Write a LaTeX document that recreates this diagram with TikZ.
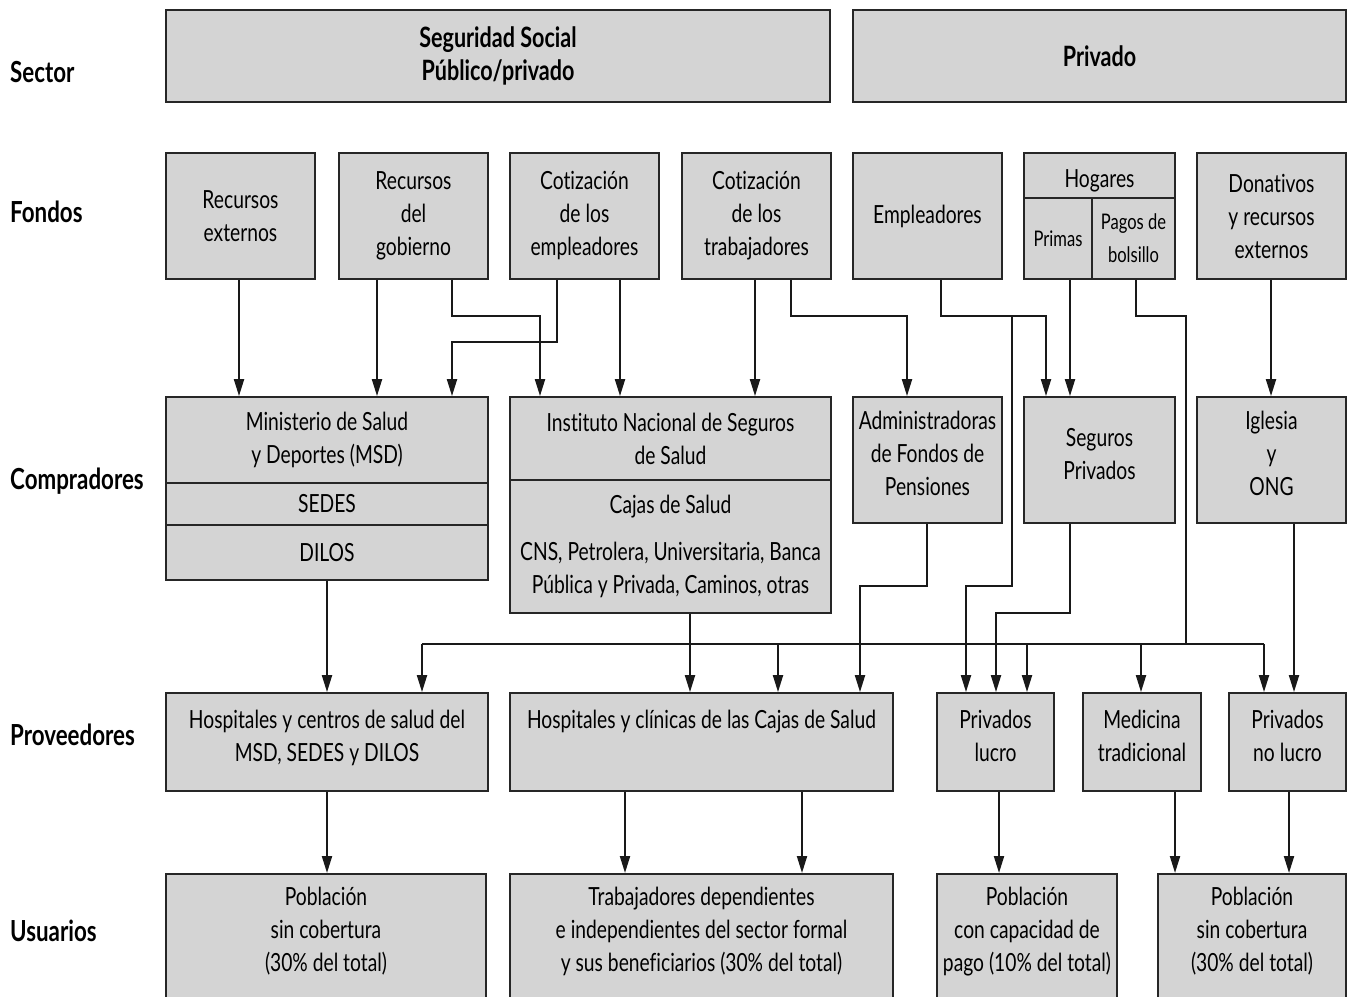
\documentclass[tikz,border=0pt]{standalone}
\usepackage{fontspec}
\setmainfont{Lato}[FakeStretch=0.77, Ligatures=NoCommon]
\usetikzlibrary{arrows.meta}

\newcommand\cajafont{\fontsize{25}{33}\selectfont}
\newcommand\chicafont{\fontsize{21.5}{33}\selectfont}

\begin{document}
\begin{tikzpicture}[
    x=1pt, y=-1pt,
    box/.style={rectangle, draw=black!85, fill=black!17, line width=1.8pt,
                align=center, inner sep=0pt, font=\cajafont},
    sector/.style={box, minimum height=92pt, font=\fontsize{28}{33}\selectfont\bfseries},
    fondo/.style={box, minimum width=149pt, minimum height=126pt},
    compra/.style={box, minimum width=149pt, minimum height=126pt, text depth=13pt},
    prov/.style={box, minimum height=98pt, text depth=13pt},
    usu/.style={box, anchor=north, minimum height=160pt},
    utext/.style={align=center, inner sep=0pt, font=\cajafont},
    rowlab/.style={anchor=west, inner sep=0pt, font=\fontsize{29}{30}\selectfont\bfseries},
    link/.style={line width=2pt, draw=black!90},
    arr/.style={link, -{Triangle[length=17pt, width=10pt]}},
]
\useasboundingbox (0,0) rectangle (1351,996);
\clip (0,0) rectangle (1351,996);
\fill[white] (0,0) rectangle (1351,996);

% Row labels
\node[rowlab] (lsector) at (10,72) {Sector};
\node[rowlab] (lfondos) at (10,212) {Fondos};
\node[rowlab] (lcomp) at (10,481) {Compradores};
\node[rowlab] (lprov) at (10,735) {Proveedores};
\node[rowlab] (lusu) at (10,931) {Usuarios};

% Sector
\node[sector, minimum width=664pt] (ss) at (498,56) {Seguridad Social\\Público/privado};
\node[sector, minimum width=493pt] (priv) at (1099.5,56) {Privado};

% Fondos
\node[fondo] (rext) at (240.5,216) {Recursos\\externos};
\node[fondo] (rgob) at (413.5,216) {Recursos\\del\\gobierno};
\node[fondo] (cemp) at (584.5,216) {Cotización\\de los\\empleadores};
\node[fondo] (ctra) at (756.5,216) {Cotización\\de los\\trabajadores};
\node[fondo] (empl) at (927.5,216) {Empleadores};
\node[box, minimum width=151pt, minimum height=45pt, text height=24pt, text depth=0pt]
     (hog) at (1099.5,175.5) {Hogares};
\node[box, minimum width=68pt, minimum height=81pt, font=\chicafont] (primas) at (1058,238.5) {Primas};
\node[box, minimum width=83pt, minimum height=81pt, font=\chicafont] (pagos) at (1133.5,238.5) {Pagos de\\bolsillo};
\node[fondo] (don) at (1271.5,216) {Donativos\\y recursos\\externos};

% Compradores
\node[box, minimum width=322pt, minimum height=86pt] (msd) at (327,440) {Ministerio de Salud\\y Deportes (MSD)};
\node[box, minimum width=322pt, minimum height=42pt] (sedes) at (327,504) {SEDES};
\node[box, minimum width=322pt, minimum height=55pt] (dilos) at (327,552.5) {DILOS};
\node[box, minimum width=321pt, minimum height=83pt] (inss) at (670.5,438.5) {Instituto Nacional de Seguros\\de Salud};
\node[box, minimum width=321pt, minimum height=133pt] (cajas) at (670.5,546.5)
     {Cajas de Salud\\[14pt]CNS, Petrolera, Universitaria, Banca\\Pública y Privada, Caminos, otras};
\node[compra] (afp) at (927.5,460) {Administradoras\\de Fondos de\\Pensiones};
\node[compra, minimum width=151pt] (segp) at (1099.5,460) {Seguros\\Privados};
\node[compra] (igl) at (1271.5,460) {Iglesia\\y\\ONG};

% Proveedores
\node[prov, minimum width=322pt] (hmsd) at (327,742) {Hospitales y centros de salud del\\MSD, SEDES y DILOS};
\node[prov, minimum width=383pt] (hcaj) at (701.5,742) {Hospitales y clínicas de las Cajas de Salud\\\mbox{}};
\node[prov, minimum width=117pt] (plucro) at (995.5,742) {Privados\\lucro};
\node[prov, minimum width=118pt] (medt) at (1142,742) {Medicina\\tradicional};
\node[prov, minimum width=117pt] (pnol) at (1287.5,742) {Privados\\no lucro};

% Usuarios (cut by the lower edge)
\node[usu, minimum width=320pt] (u1) at (326,873) {};
\node[usu, minimum width=383pt] (u2) at (701.5,873) {};
\node[usu, minimum width=180pt] (u3) at (1027,873) {};
\node[usu, minimum width=188pt] (u4) at (1252,873) {};
\node[utext] (u1t) at ([yshift=-58.5pt]u1.north) {Población\\sin cobertura\\(30\% del total)};
\node[utext] (u2t) at ([yshift=-58.5pt]u2.north) {Trabajadores dependientes\\e independientes del sector formal\\y sus beneficiarios (30\% del total)};
\node[utext] (u3t) at ([yshift=-58.5pt]u3.north) {Población\\con capacidad de\\pago (10\% del total)};
\node[utext] (u4t) at ([yshift=-58.5pt]u4.north) {Población\\sin cobertura\\(30\% del total)};

% Fondos -> compradores
\draw[arr] ([xshift=-1.5pt]rext.south) -- ([xshift=-1.5pt]rext.south |- msd.north);
\draw[arr] ([xshift=-36.5pt]rgob.south) -- ([xshift=-36.5pt]rgob.south |- msd.north);
\draw[arr] ([xshift=38.5pt]rgob.south) -- ++(0,36) -| ([xshift=-130.5pt]inss.north);
\draw[arr] ([xshift=-27.5pt]cemp.south) -- ++(0,62) -| ([xshift=125pt]msd.north);
\draw[arr] ([xshift=35.5pt]cemp.south) -- ([xshift=35.5pt]cemp.south |- inss.north);
\draw[arr] ([xshift=-1.5pt]ctra.south) -- ([xshift=-1.5pt]ctra.south |- inss.north);
\draw[arr] ([xshift=34.5pt]ctra.south) -- ++(0,36) -| ([xshift=-20.5pt]afp.north);
\draw[arr] ([xshift=13.5pt]empl.south) -- ++(0,36) -- ++(71,0) coordinate (ej)
      -| ([xshift=-53.5pt]segp.north);
\draw[arr] ([xshift=12pt]primas.south) -- ([xshift=12pt]primas.south |- segp.north);
\draw[link] ([xshift=2.5pt]pagos.south) -- ++(0,36) -- ++(50,0) -- ++(0,328) coordinate (bj);
\draw[arr] ([xshift=-0.5pt]don.south) -- ([xshift=-0.5pt]don.south |- igl.north);
\draw[arr] (ej) -- ++(0,270) -| ([xshift=-29.5pt]plucro.north);

% Compradores -> proveedores
\draw[arr] (dilos.south) -- (dilos.south |- hmsd.north);
\draw[arr] ([xshift=19.5pt]cajas.south) -- ([xshift=19.5pt]cajas.south |- hcaj.north);
\draw[arr] ([xshift=-0.5pt]afp.south) -- ++(0,62) -| ([xshift=158.5pt]hcaj.north);
\draw[arr] ([xshift=-29.5pt]segp.south) -- ++(0,89) -| ([xshift=0.5pt]plucro.north);
\draw[arr] ([xshift=22.5pt]igl.south) -- ([xshift=22.5pt]igl.south |- pnol.north);

% Pagos de bolsillo: bus to every provider
\draw[link] ([xshift=95pt]hmsd.north |- bj) -- ([xshift=-23.5pt]pnol.north |- bj);
\foreach \n/\s in {hmsd/95, hcaj/76.5, plucro/31.5, medt/-1, pnol/-23.5}
  \draw[arr] ([xshift=\s pt]\n.north |- bj) -- ([xshift=\s pt]\n.north);

% Proveedores -> usuarios
\draw[arr] (hmsd.south) -- (hmsd.south |- u1.north);
\draw[arr] ([xshift=-76.5pt]hcaj.south) -- ([xshift=-76.5pt]hcaj.south |- u2.north);
\draw[arr] ([xshift=100.5pt]hcaj.south) -- ([xshift=100.5pt]hcaj.south |- u2.north);
\draw[arr] ([xshift=3.5pt]plucro.south) -- ([xshift=3.5pt]plucro.south |- u3.north);
\draw[arr] ([xshift=33pt]medt.south) -- ([xshift=33pt]medt.south |- u4.north);
\draw[arr] ([xshift=1.5pt]pnol.south) -- ([xshift=1.5pt]pnol.south |- u4.north);

\end{tikzpicture}
\end{document}
